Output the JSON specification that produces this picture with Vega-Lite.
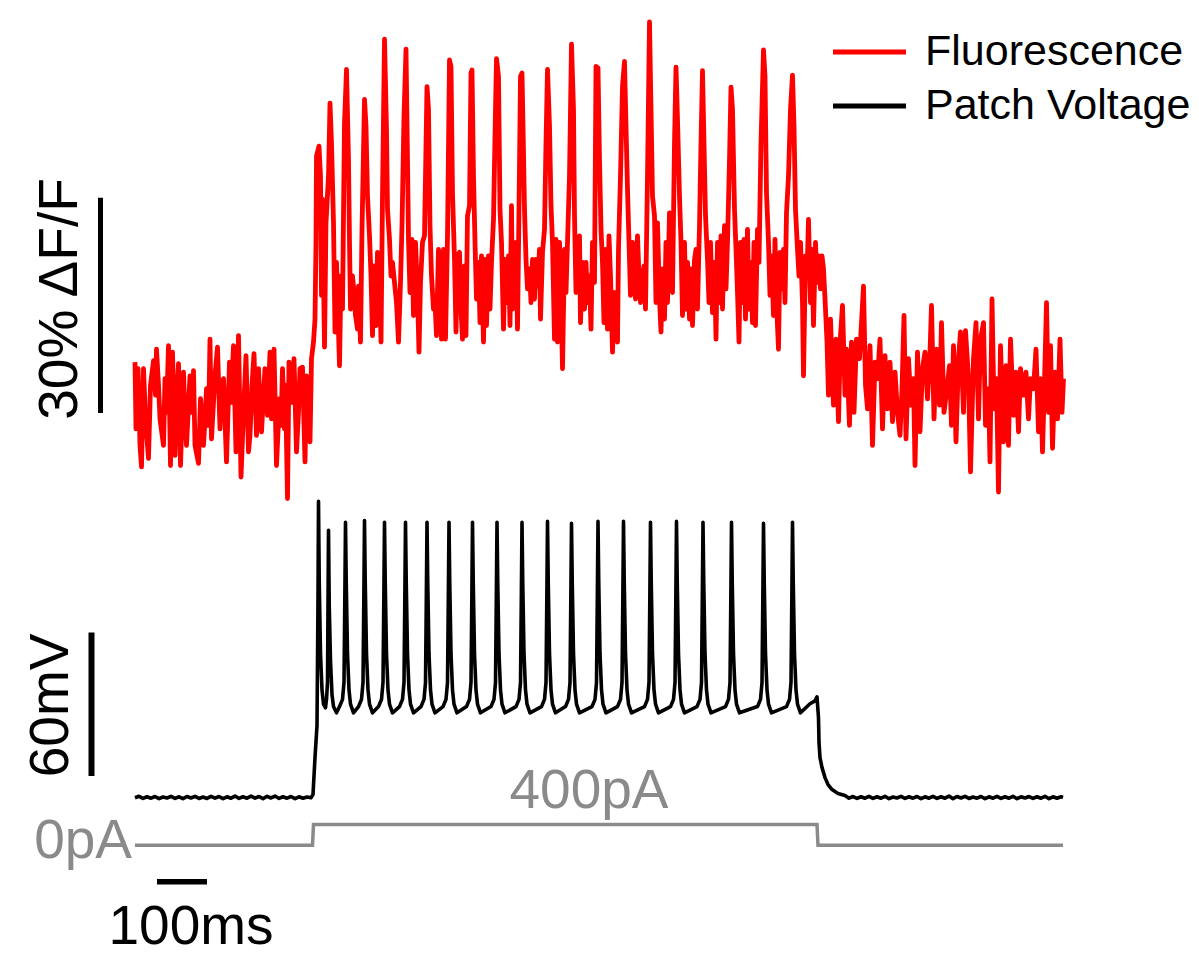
{
  "$schema": "https://vega.github.io/schema/vega-lite/v6.json",
  "width": 1199,
  "height": 956,
  "autosize": {"type": "fit", "contains": "padding"},
  "padding": 0,
  "background": "white",
  "config": {"view": {"stroke": null}},
  "datasets": {
    "fluorescence": [
      {"t":0,"f":5.1},{"t":2,"f":-4.2},{"t":6,"f":4.2},{"t":10,"f":-6.5},{"t":13,"f":-9.5},{"t":17,"f":4.2},{"t":21,"f":-2.8},{"t":27,"f":-8.3},{"t":31,"f":1.9},{"t":37,"f":5.3},{"t":41,"f":0.5},{"t":43,"f":6.9},{"t":47,"f":1.9},{"t":50,"f":-2.8},{"t":57,"f":-6.5},{"t":60,"f":2.8},{"t":63,"f":-1.9},{"t":67,"f":7.4},{"t":71,"f":-9.3},{"t":75,"f":6.5},{"t":80,"f":-7.9},{"t":83,"f":-0.5},{"t":87,"f":4.9},{"t":91,"f":-9.3},{"t":97,"f":3.7},{"t":100,"f":-2.8},{"t":103,"f":-6.5},{"t":110,"f":3.2},{"t":114,"f":-1.9},{"t":117,"f":3.9},{"t":120,"f":-6.5},{"t":127,"f":-9.0},{"t":131,"f":0},{"t":137,"f":-6.5},{"t":140,"f":-2.8},{"t":143,"f":1.4},{"t":147,"f":-3.7},{"t":150,"f":8.3},{"t":153,"f":-5.6},{"t":157,"f":-0.5},{"t":160,"f":3.2},{"t":165,"f":7.2},{"t":170,"f":-4.2},{"t":173,"f":1.9},{"t":177,"f":2.8},{"t":183,"f":-8.8},{"t":189,"f":5.1},{"t":192,"f":-0.5},{"t":197,"f":7.4},{"t":202,"f":-7.4},{"t":207,"f":8.8},{"t":212,"f":-10.9},{"t":217,"f":-1.9},{"t":222,"f":6.0},{"t":227,"f":-7.4},{"t":230,"f":-5.1},{"t":234,"f":1.9},{"t":238,"f":6.3},{"t":243,"f":-5.1},{"t":247,"f":4.2},{"t":253,"f":-4.6},{"t":257,"f":0.5},{"t":260,"f":4.2},{"t":265,"f":-2.3},{"t":270,"f":6.5},{"t":273,"f":-2.8},{"t":278,"f":6.9},{"t":283,"f":-9.3},{"t":289,"f":0},{"t":292,"f":-3.7},{"t":295,"f":4.2},{"t":299,"f":-4.2},{"t":301,"f":1.9},{"t":305,"f":-13.9},{"t":308,"f":5.1},{"t":313,"f":-0.5},{"t":318,"f":5.6},{"t":323,"f":-7.4},{"t":327,"f":-1.9},{"t":330,"f":4.2},{"t":335,"f":4.4},{"t":340,"f":-8.8},{"t":343,"f":3.2},{"t":350,"f":-6.0},{"t":353,"f":5.6},
      {"t":357,"f":7.9},{"t":360,"f":11.1},{"t":362,"f":21.8},{"t":363,"f":33.8},{"t":368,"f":35.2},{"t":371,"f":31.0},{"t":373,"f":14.4},{"t":375,"f":27.8},{"t":379,"f":7.2},{"t":382,"f":24.5},{"t":387,"f":31.0},{"t":390,"f":41.2},{"t":393,"f":35.6},{"t":397,"f":24.5},{"t":400,"f":9.3},{"t":403,"f":19.0},{"t":409,"f":4.6},{"t":412,"f":17.1},{"t":415,"f":12.5},{"t":419,"f":38.4},{"t":423,"f":45.9},{"t":427,"f":33.3},{"t":429,"f":21.8},{"t":431,"f":12.5},{"t":435,"f":17.1},{"t":438,"f":14.8},{"t":441,"f":11.6},{"t":445,"f":9.7},{"t":447,"f":15.7},{"t":451,"f":7.9},{"t":454,"f":23.6},{"t":459,"f":41.7},{"t":462,"f":38.0},{"t":465,"f":28.2},{"t":469,"f":22.7},{"t":472,"f":17.1},{"t":475,"f":8.8},{"t":478,"f":18.5},{"t":482,"f":10.2},{"t":485,"f":20.4},{"t":489,"f":18.1},{"t":492,"f":7.9},{"t":495,"f":28.2},{"t":499,"f":50.1},{"t":503,"f":37.5},{"t":505,"f":26.4},{"t":509,"f":22.2},{"t":512,"f":17.1},{"t":515,"f":19.0},{"t":519,"f":16.2},{"t":523,"f":13.4},{"t":527,"f":7.9},{"t":531,"f":16.2},{"t":534,"f":24.1},{"t":538,"f":39.4},{"t":542,"f":48.7},{"t":545,"f":33.3},{"t":547,"f":22.2},{"t":550,"f":14.8},{"t":554,"f":22.2},{"t":557,"f":11.6},{"t":561,"f":21.8},{"t":565,"f":14.8},{"t":568,"f":6.5},{"t":571,"f":16.2},{"t":575,"f":21.8},{"t":579,"f":22.7},{"t":581,"f":31.0},{"t":584,"f":43.5},{"t":587,"f":40.3},{"t":590,"f":24.1},{"t":593,"f":17.1},{"t":597,"f":12.5},{"t":600,"f":13.4},{"t":603,"f":8.8},{"t":607,"f":20.8},{"t":610,"f":19.0},{"t":613,"f":8.3},{"t":617,"f":20.8},{"t":621,"f":8.3},{"t":625,"f":22.7},{"t":629,"f":47.2},{"t":632,"f":46.3},{"t":635,"f":28.7},{"t":639,"f":19.4},{"t":642,"f":9.3},{"t":645,"f":19.9},{"t":649,"f":20.4},{"t":652,"f":12.5},{"t":655,"f":8.3},{"t":659,"f":18.5},{"t":662,"f":8.8},{"t":665,"f":25.5},{"t":669,"f":26.9},{"t":672,"f":45.4},{"t":674,"f":45.8},{"t":677,"f":31.0},{"t":680,"f":21.8},{"t":683,"f":13.9},{"t":687,"f":19.0},{"t":690,"f":10.6},{"t":693,"f":19.9},{"t":697,"f":7.9},{"t":700,"f":19.4},{"t":703,"f":10.2},{"t":707,"f":19.9},{"t":710,"f":12.5},{"t":713,"f":19.0},{"t":717,"f":25.0},{"t":721,"f":40.3},{"t":723,"f":47.4},{"t":727,"f":44.9},{"t":730,"f":26.4},{"t":733,"f":21.8},{"t":737,"f":9.7},{"t":740,"f":19.4},{"t":743,"f":13.4},{"t":747,"f":19.9},{"t":750,"f":10.2},{"t":753,"f":26.9},{"t":755,"f":12.5},{"t":759,"f":17.1},{"t":762,"f":21.8},{"t":765,"f":9.7},{"t":768,"f":26.4},{"t":771,"f":44.9},{"t":774,"f":45.4},{"t":777,"f":34.3},{"t":779,"f":26.4},{"t":782,"f":19.4},{"t":785,"f":15.3},{"t":789,"f":18.1},{"t":792,"f":13.4},{"t":795,"f":19.4},{"t":799,"f":13.9},{"t":802,"f":19.4},{"t":805,"f":15.7},{"t":809,"f":20.8},{"t":811,"f":11.1},{"t":815,"f":20.4},{"t":819,"f":23.6},{"t":822,"f":35.6},{"t":825,"f":45.9},
      {"t":829,"f":38.0},{"t":832,"f":26.9},{"t":835,"f":21.8},{"t":839,"f":8.3},{"t":842,"f":22.2},{"t":845,"f":7.9},{"t":849,"f":21.8},{"t":852,"f":14.4},{"t":855,"f":4.2},{"t":859,"f":20.8},{"t":862,"f":14.8},{"t":865,"f":21.8},{"t":869,"f":31.0},{"t":873,"f":49.4},{"t":877,"f":40.3},{"t":879,"f":25.5},{"t":882,"f":14.8},{"t":885,"f":20.8},{"t":889,"f":22.7},{"t":891,"f":10.6},{"t":895,"f":19.0},{"t":899,"f":12.5},{"t":902,"f":19.0},{"t":905,"f":13.4},{"t":909,"f":17.1},{"t":912,"f":9.7},{"t":915,"f":21.8},{"t":919,"f":16.2},{"t":922,"f":46.3},{"t":926,"f":46.1},{"t":929,"f":33.3},{"t":932,"f":23.6},{"t":935,"f":19.0},{"t":938,"f":10.6},{"t":941,"f":20.8},{"t":945,"f":9.7},{"t":948,"f":22.7},{"t":951,"f":17.1},{"t":955,"f":6.5},{"t":958,"f":14.8},{"t":961,"f":12.5},{"t":965,"f":7.9},{"t":967,"f":20.8},{"t":971,"f":31.0},{"t":975,"f":43.5},{"t":979,"f":47.0},{"t":982,"f":38.0},{"t":985,"f":29.2},{"t":988,"f":21.8},{"t":991,"f":14.4},{"t":995,"f":21.8},{"t":998,"f":18.1},{"t":1001,"f":13.9},{"t":1005,"f":22.7},{"t":1008,"f":17.1},{"t":1011,"f":13.4},{"t":1015,"f":17.1},{"t":1018,"f":18.5},{"t":1021,"f":12.5},{"t":1025,"f":31.0},{"t":1029,"f":52.5},{"t":1032,"f":40.3},{"t":1035,"f":28.2},{"t":1039,"f":25.5},{"t":1042,"f":13.4},{"t":1045,"f":24.5},{"t":1049,"f":13.9},{"t":1052,"f":9.3},{"t":1055,"f":18.1},{"t":1059,"f":11.1},{"t":1062,"f":21.8},{"t":1065,"f":13.4},{"t":1069,"f":25.9},{"t":1072,"f":25.5},{"t":1075,"f":14.8},{"t":1079,"f":35.6},{"t":1082,"f":46.2},{"t":1085,"f":38.9},{"t":1089,"f":28.2},{"t":1092,"f":21.8},{"t":1095,"f":11.6},{"t":1099,"f":21.8},{"t":1102,"f":12.5},{"t":1105,"f":19.0},{"t":1109,"f":11.1},{"t":1112,"f":18.1},{"t":1115,"f":10.2},{"t":1119,"f":19.4},{"t":1122,"f":20.8},{"t":1125,"f":12.5},{"t":1129,"f":24.1},{"t":1132,"f":35.6},{"t":1135,"f":45.7},{"t":1138,"f":35.6},{"t":1141,"f":25.5},{"t":1145,"f":19.4},{"t":1148,"f":13.4},{"t":1151,"f":21.8},{"t":1155,"f":12.0},{"t":1159,"f":19.0},{"t":1162,"f":8.3},{"t":1165,"f":21.8},{"t":1169,"f":13.4},{"t":1172,"f":22.7},{"t":1175,"f":12.5},{"t":1179,"f":24.1},{"t":1182,"f":15.3},{"t":1185,"f":21.8},{"t":1189,"f":33.3},{"t":1192,"f":43.4},{"t":1195,"f":40.3},{"t":1199,"f":26.4},{"t":1202,"f":20.8},{"t":1205,"f":14.8},{"t":1208,"f":7.9},{"t":1211,"f":21.8},{"t":1215,"f":13.4},{"t":1218,"f":22.2},{"t":1221,"f":11.1},{"t":1225,"f":23.6},{"t":1228,"f":12.5},{"t":1231,"f":19.0},{"t":1235,"f":10.6},{"t":1238,"f":21.8},{"t":1241,"f":10.2},{"t":1245,"f":23.6},{"t":1248,"f":19.0},{"t":1252,"f":35.6},{"t":1257,"f":48.6},{"t":1260,"f":44.9},{"t":1263,"f":28.7},{"t":1267,"f":21.8},{"t":1270,"f":14.4},{"t":1273,"f":19.9},{"t":1277,"f":11.6},{"t":1280,"f":22.2},{"t":1283,"f":13.4},{"t":1287,"f":6.9},{"t":1290,"f":20.4},{"t":1293,"f":15.3},{"t":1297,"f":20.8},{"t":1300,"f":13.4},{"t":1303,"f":25.9},{"t":1307,"f":31.0},{"t":1311,"f":40.3},{"t":1315,"f":45.1},{"t":1318,"f":38.0},{"t":1321,"f":26.4},{"t":1325,"f":20.8},{"t":1328,"f":17.1},{"t":1331,"f":21.8},{"t":1335,"f":13.4},{"t":1337,"f":3.2},{"t":1341,"f":19.9},{"t":1344,"f":17.1},{"t":1347,"f":25.0},{"t":1351,"f":13.4},{"t":1354,"f":20.8},{"t":1357,"f":10.2},{"t":1361,"f":21.8},{"t":1364,"f":16.2},{"t":1367,"f":19.9},{"t":1371,"f":15.3},{"t":1374,"f":19.9},{"t":1377,"f":18.1},{"t":1381,"f":12.5},{"t":1384,"f":7.9},
      {"t":1387,"f":0.5},{"t":1391,"f":11.1},{"t":1397,"f":-0.9},{"t":1402,"f":8.3},{"t":1407,"f":-3.2},{"t":1411,"f":8.8},{"t":1415,"f":13.0},{"t":1420,"f":0.5},{"t":1423,"f":6.9},{"t":1429,"f":-3.7},{"t":1433,"f":7.9},{"t":1438,"f":-1.9},{"t":1443,"f":8.3},{"t":1449,"f":5.6},{"t":1453,"f":10.6},{"t":1457,"f":15.7},{"t":1461,"f":1.9},{"t":1465,"f":-1.4},{"t":1470,"f":7.4},{"t":1475,"f":-6.5},{"t":1480,"f":5.1},{"t":1485,"f":2.8},{"t":1490,"f":8.3},{"t":1495,"f":-4.2},{"t":1500,"f":6.0},{"t":1505,"f":-1.4},{"t":1510,"f":5.1},{"t":1515,"f":-3.2},{"t":1520,"f":3.7},{"t":1525,"f":-1.9},{"t":1530,"f":-5.1},{"t":1534,"f":1.4},{"t":1538,"f":11.6},{"t":1542,"f":-5.6},{"t":1547,"f":5.6},{"t":1552,"f":-0.9},{"t":1557,"f":2.8},{"t":1560,"f":-9.3},{"t":1565,"f":6.5},{"t":1570,"f":-4.6},{"t":1575,"f":4.2},{"t":1580,"f":6.5},{"t":1585,"f":0},{"t":1590,"f":6.5},{"t":1593,"f":13.0},{"t":1598,"f":-2.8},{"t":1603,"f":6.9},{"t":1609,"f":-0.9},{"t":1613,"f":10.6},{"t":1618,"f":-1.9},{"t":1623,"f":0.9},{"t":1629,"f":4.6},{"t":1633,"f":-3.7},{"t":1637,"f":7.4},{"t":1642,"f":-6.0},{"t":1647,"f":5.6},{"t":1651,"f":9.3},{"t":1657,"f":-1.9},{"t":1661,"f":9.5},{"t":1667,"f":2.8},{"t":1671,"f":-10.2},{"t":1677,"f":5.6},{"t":1682,"f":10.6},{"t":1687,"f":-2.8},{"t":1691,"f":8.3},{"t":1697,"f":10.6},{"t":1701,"f":-3.7},{"t":1707,"f":1.4},{"t":1710,"f":-8.8},{"t":1714,"f":13.9},{"t":1718,"f":-1.4},{"t":1723,"f":2.8},{"t":1727,"f":-13.0},{"t":1731,"f":7.4},{"t":1737,"f":-6.0},{"t":1742,"f":4.6},{"t":1747,"f":-6.5},{"t":1751,"f":8.3},{"t":1757,"f":-2.3},{"t":1762,"f":3.7},{"t":1767,"f":-4.6},{"t":1771,"f":4.2},{"t":1777,"f":0.5},{"t":1782,"f":3.7},{"t":1787,"f":-2.8},{"t":1791,"f":2.8},{"t":1797,"f":1.4},{"t":1802,"f":6.9},{"t":1807,"f":-4.6},{"t":1811,"f":2.8},{"t":1815,"f":-7.4},{"t":1820,"f":5.1},{"t":1823,"f":13.4},{"t":1827,"f":-1.9},{"t":1831,"f":7.4},{"t":1835,"f":-6.9},{"t":1840,"f":3.7},{"t":1845,"f":-2.8},{"t":1850,"f":8.3},{"t":1854,"f":-1.9},{"t":1857,"f":2.8}
    ],
    "voltage": [
      {"t":0,"v":-65.1},{"t":8,"v":-64.5},{"t":16,"v":-65.4},{"t":24,"v":-64.7},{"t":32,"v":-65.3},{"t":40,"v":-64.6},{"t":48,"v":-65.5},{"t":56,"v":-64.8},{"t":64,"v":-65.2},{"t":72,"v":-64.5},{"t":80,"v":-65.4},{"t":88,"v":-64.7},{"t":96,"v":-65.5},{"t":104,"v":-64.6},{"t":112,"v":-65.2},{"t":120,"v":-64.5},{"t":128,"v":-65.4},{"t":136,"v":-64.8},{"t":144,"v":-65.4},{"t":152,"v":-64.5},{"t":160,"v":-65.3},{"t":168,"v":-64.6},{"t":176,"v":-65.5},{"t":184,"v":-64.7},{"t":192,"v":-65.3},{"t":200,"v":-64.4},{"t":208,"v":-65.4},{"t":216,"v":-64.7},{"t":224,"v":-65.3},{"t":232,"v":-64.4},{"t":240,"v":-65.3},{"t":248,"v":-64.6},{"t":256,"v":-65.5},{"t":264,"v":-64.5},{"t":272,"v":-65.2},{"t":280,"v":-64.4},{"t":288,"v":-65.4},{"t":296,"v":-64.7},{"t":304,"v":-65.3},{"t":312,"v":-64.6},{"t":320,"v":-65.5},{"t":328,"v":-64.7},{"t":336,"v":-65.3},{"t":344,"v":-64.8},{"t":352,"v":-65.1},
      {"t":356,"v":-63.8},{"t":360,"v":-48.3},{"t":364,"v":-35.0},{"t":366,"v":18.3},{"t":367,"v":58.8},{"t":368.5,"v":25},{"t":371,"v":-5},{"t":374,"v":-20},{"t":377,"v":-26},{"t":381,"v":-27.5},{"t":383,"v":-24},{"t":385,"v":-17},{"t":386,"v":15},{"t":387,"v":46.7},{"t":388.5,"v":15},{"t":391,"v":-8},{"t":394,"v":-22},{"t":397,"v":-27},
      {"t":403,"v":-29.6},{"t":409,"v":-27.0},{"t":415,"v":-24.0},{"t":418,"v":-17},{"t":419.5,"v":15},{"t":421,"v":50.0},{"t":422.5,"v":25},{"t":425,"v":-5},{"t":428,"v":-20},{"t":431,"v":-26},
      {"t":437,"v":-29.6},{"t":447,"v":-27.0},{"t":453,"v":-24.0},{"t":456,"v":-17},{"t":457.5,"v":15},{"t":459,"v":50.8},{"t":460.5,"v":25},{"t":463,"v":-5},{"t":466,"v":-20},{"t":469,"v":-26},
      {"t":475,"v":-29.6},{"t":487,"v":-27.0},{"t":493,"v":-24.0},{"t":496,"v":-17},{"t":497.5,"v":15},{"t":499,"v":50.0},{"t":500.5,"v":25},{"t":503,"v":-5},{"t":506,"v":-20},{"t":509,"v":-26},
      {"t":515,"v":-29.6},{"t":529,"v":-27.0},{"t":535,"v":-24.0},{"t":538,"v":-17},{"t":539.5,"v":15},{"t":541,"v":50.0},{"t":542.5,"v":25},{"t":545,"v":-5},{"t":548,"v":-20},{"t":551,"v":-26},
      {"t":557,"v":-29.6},{"t":572,"v":-27.0},{"t":578,"v":-24.0},{"t":581,"v":-17},{"t":582.5,"v":15},{"t":584,"v":50.0},{"t":585.5,"v":25},{"t":588,"v":-5},{"t":591,"v":-20},{"t":594,"v":-26},
      {"t":600,"v":-29.6},{"t":616,"v":-27.0},{"t":622,"v":-24.0},{"t":625,"v":-17},{"t":626.5,"v":15},{"t":628,"v":50.0},{"t":629.5,"v":25},{"t":632,"v":-5},{"t":635,"v":-20},{"t":638,"v":-26},
      {"t":644,"v":-29.6},{"t":663,"v":-27.0},{"t":669,"v":-24.0},{"t":672,"v":-17},{"t":673.5,"v":15},{"t":675,"v":50.0},{"t":676.5,"v":25},{"t":679,"v":-5},{"t":682,"v":-20},{"t":685,"v":-26},
      {"t":691,"v":-29.6},{"t":712,"v":-27.0},{"t":718,"v":-24.0},{"t":721,"v":-17},{"t":722.5,"v":15},{"t":724,"v":50.0},{"t":725.5,"v":25},{"t":728,"v":-5},{"t":731,"v":-20},{"t":734,"v":-26},
      {"t":740,"v":-29.6},{"t":762,"v":-27.0},{"t":768,"v":-24.0},{"t":771,"v":-17},{"t":772.5,"v":15},{"t":774,"v":50.0},{"t":775.5,"v":25},{"t":778,"v":-5},{"t":781,"v":-20},{"t":784,"v":-26},
      {"t":790,"v":-29.6},{"t":813,"v":-27.0},{"t":819,"v":-24.0},{"t":822,"v":-17},{"t":823.5,"v":15},{"t":825,"v":50.4},{"t":826.5,"v":25},{"t":829,"v":-5},{"t":832,"v":-20},{"t":835,"v":-26},
      {"t":841,"v":-29.6},{"t":861,"v":-27.0},{"t":867,"v":-24.0},{"t":870,"v":-17},{"t":871.5,"v":15},{"t":873,"v":49.6},{"t":874.5,"v":25},{"t":877,"v":-5},{"t":880,"v":-20},{"t":883,"v":-26},
      {"t":889,"v":-29.6},{"t":914,"v":-27.0},{"t":920,"v":-24.0},{"t":923,"v":-17},{"t":924.5,"v":15},{"t":926,"v":50.4},{"t":927.5,"v":25},{"t":930,"v":-5},{"t":933,"v":-20},{"t":936,"v":-26},
      {"t":942,"v":-29.6},{"t":965,"v":-27.0},{"t":971,"v":-24.0},{"t":974,"v":-17},{"t":975.5,"v":15},{"t":977,"v":50.4},{"t":978.5,"v":25},{"t":981,"v":-5},{"t":984,"v":-20},{"t":987,"v":-26},
      {"t":993,"v":-29.6},{"t":1019,"v":-27.0},{"t":1025,"v":-24.0},{"t":1028,"v":-17},{"t":1029.5,"v":15},{"t":1031,"v":50.0},{"t":1032.5,"v":25},{"t":1035,"v":-5},{"t":1038,"v":-20},{"t":1041,"v":-26},
      {"t":1047,"v":-29.6},{"t":1071,"v":-27.0},{"t":1077,"v":-24.0},{"t":1080,"v":-17},{"t":1081.5,"v":15},{"t":1083,"v":50.4},{"t":1084.5,"v":25},{"t":1087,"v":-5},{"t":1090,"v":-20},{"t":1093,"v":-26},
      {"t":1099,"v":-29.6},{"t":1124,"v":-27.0},{"t":1130,"v":-24.0},{"t":1133,"v":-17},{"t":1134.5,"v":15},{"t":1136,"v":50.0},{"t":1137.5,"v":25},{"t":1140,"v":-5},{"t":1143,"v":-20},{"t":1146,"v":-26},
      {"t":1152,"v":-29.6},{"t":1181,"v":-27.0},{"t":1187,"v":-24.0},{"t":1190,"v":-17},{"t":1191.5,"v":15},{"t":1193,"v":50.0},{"t":1194.5,"v":25},{"t":1197,"v":-5},{"t":1200,"v":-20},{"t":1203,"v":-26},
      {"t":1209,"v":-29.6},{"t":1245,"v":-27.0},{"t":1251,"v":-24.0},{"t":1254,"v":-17},{"t":1255.5,"v":15},{"t":1257,"v":49.6},{"t":1258.5,"v":25},{"t":1261,"v":-5},{"t":1264,"v":-20},{"t":1267,"v":-26},
      {"t":1273,"v":-29.6},{"t":1303,"v":-27.0},{"t":1309,"v":-24.0},{"t":1312,"v":-17},{"t":1313.5,"v":15},{"t":1315,"v":50.0},{"t":1316.5,"v":25},{"t":1319,"v":-5},{"t":1322,"v":-20},{"t":1325,"v":-26},
      {"t":1331,"v":-29.6},{"t":1350,"v":-25.8},{"t":1360,"v":-24.6},{"t":1364,"v":-22.9},{"t":1367,"v":-31.7},{"t":1368,"v":-42.1},{"t":1370,"v":-48.3},{"t":1374,"v":-52.5},{"t":1380,"v":-56.7},{"t":1386,"v":-59.6},{"t":1394,"v":-61.7},{"t":1406,"v":-63.3},{"t":1420,"v":-64.2},
      {"t":1428,"v":-65.3},{"t":1436,"v":-64.6},{"t":1444,"v":-65.4},{"t":1452,"v":-64.7},{"t":1460,"v":-65.3},{"t":1468,"v":-64.5},{"t":1476,"v":-65.4},{"t":1484,"v":-64.7},{"t":1492,"v":-65.3},{"t":1500,"v":-64.5},{"t":1508,"v":-65.5},{"t":1516,"v":-64.8},{"t":1524,"v":-65.2},{"t":1532,"v":-64.5},{"t":1540,"v":-65.4},{"t":1548,"v":-64.7},{"t":1556,"v":-65.3},{"t":1564,"v":-64.6},{"t":1572,"v":-65.5},{"t":1580,"v":-64.7},{"t":1588,"v":-65.3},{"t":1596,"v":-64.5},{"t":1604,"v":-65.4},{"t":1612,"v":-64.7},{"t":1620,"v":-65.3},{"t":1628,"v":-64.4},{"t":1636,"v":-65.5},{"t":1644,"v":-64.6},{"t":1652,"v":-65.2},{"t":1660,"v":-64.5},{"t":1668,"v":-65.4},{"t":1676,"v":-64.8},{"t":1684,"v":-65.3},{"t":1692,"v":-64.6},{"t":1700,"v":-65.5},{"t":1708,"v":-64.7},{"t":1716,"v":-65.3},{"t":1724,"v":-64.5},{"t":1732,"v":-65.4},{"t":1740,"v":-64.7},{"t":1748,"v":-65.3},{"t":1756,"v":-64.5},{"t":1764,"v":-65.5},{"t":1772,"v":-64.7},{"t":1780,"v":-65.2},{"t":1788,"v":-64.6},{"t":1796,"v":-65.4},{"t":1804,"v":-64.7},{"t":1812,"v":-65.3},{"t":1820,"v":-64.5},{"t":1828,"v":-65.5},{"t":1836,"v":-64.7},{"t":1844,"v":-65.3},{"t":1852,"v":-64.7},{"t":1856,"v":-65.0}
    ],
    "current": [
      {"t":0,"i":0},{"t":355,"i":0},{"t":357,"i":400},{"t":1364,"i":400},{"t":1366,"i":0},{"t":1856,"i":0}
    ],
    "key": [
      {"series": "Fluorescence", "t0": 1396, "t1": 1542, "tl": 1580, "f": 48.3},
      {"series": "Patch Voltage", "t0": 1396, "t1": 1542, "tl": 1580, "f": 40.8}
    ]
  },
  "layer": [
    {
      "data": {"name": "current"},
      "mark": {"type": "line", "color": "#8a8a8a", "strokeWidth": 3.5, "strokeJoin": "miter"},
      "encoding": {
        "x": {"field": "t", "type": "quantitative", "scale": {"domain": [-270, 2128], "nice": false, "zero": false}, "axis": null},
        "y": {"field": "i", "type": "quantitative", "scale": {"domain": [-2057.14, 16152.38], "nice": false, "zero": false}, "axis": null}
      }
    },
    {
      "data": {"values": [{"t": -6, "i": -248, "label": "0pA"}]},
      "mark": {"type": "text", "font": "Liberation Sans", "fontSize": 55, "color": "#8a8a8a", "baseline": "alphabetic", "align": "right"},
      "encoding": {
        "x": {"field": "t", "type": "quantitative", "scale": {"domain": [-270, 2128], "nice": false, "zero": false}, "axis": null},
        "y": {"field": "i", "type": "quantitative", "scale": {"domain": [-2057.14, 16152.38], "nice": false, "zero": false}, "axis": null},
        "text": {"field": "label"}
      }
    },
    {
      "data": {"values": [{"t": 908, "i": 720, "label": "400pA"}]},
      "mark": {"type": "text", "font": "Liberation Sans", "fontSize": 55, "color": "#8a8a8a", "baseline": "alphabetic", "align": "center"},
      "encoding": {
        "x": {"field": "t", "type": "quantitative", "scale": {"domain": [-270, 2128], "nice": false, "zero": false}, "axis": null},
        "y": {"field": "i", "type": "quantitative", "scale": {"domain": [-2057.14, 16152.38], "nice": false, "zero": false}, "axis": null},
        "text": {"field": "label"}
      }
    },
    {
      "data": {"values": [{"t0": 44, "t1": 144, "i": -695}]},
      "mark": {"type": "rule", "color": "#000000", "strokeWidth": 5.5},
      "encoding": {
        "x": {"field": "t0", "type": "quantitative", "scale": {"domain": [-270, 2128], "nice": false, "zero": false}, "axis": null},
        "x2": {"field": "t1"},
        "y": {"field": "i", "type": "quantitative", "scale": {"domain": [-2057.14, 16152.38], "nice": false, "zero": false}, "axis": null}
      }
    },
    {
      "data": {"values": [{"t": 112, "i": -1886, "label": "100ms"}]},
      "mark": {"type": "text", "font": "Liberation Sans", "fontSize": 55, "color": "#000000", "baseline": "alphabetic", "align": "center"},
      "encoding": {
        "x": {"field": "t", "type": "quantitative", "scale": {"domain": [-270, 2128], "nice": false, "zero": false}, "axis": null},
        "y": {"field": "i", "type": "quantitative", "scale": {"domain": [-2057.14, 16152.38], "nice": false, "zero": false}, "axis": null},
        "text": {"field": "label"}
      }
    },
    {
      "data": {"name": "voltage"},
      "mark": {"type": "line", "strokeWidth": 3.6, "strokeJoin": "round"},
      "encoding": {
        "x": {"field": "t", "type": "quantitative", "scale": {"domain": [-270, 2128], "nice": false, "zero": false}, "axis": null},
        "y": {"field": "v", "type": "quantitative", "scale": {"domain": [-130, 268.333], "nice": false, "zero": false}, "axis": null},
        "color": {"datum": "Patch Voltage", "type": "nominal", "scale": {"domain": ["Fluorescence", "Patch Voltage"], "range": ["#ff0000", "#000000"]}, "legend": null}
      }
    },
    {
      "data": {"values": [{"t": -87, "v0": -56, "v1": 4}]},
      "mark": {"type": "rule", "color": "#000000", "strokeWidth": 6},
      "encoding": {
        "x": {"field": "t", "type": "quantitative", "scale": {"domain": [-270, 2128], "nice": false, "zero": false}, "axis": null},
        "y": {"field": "v0", "type": "quantitative", "scale": {"domain": [-130, 268.333], "nice": false, "zero": false}, "axis": null},
        "y2": {"field": "v1"}
      }
    },
    {
      "data": {"values": [{"t": -169, "v": -26.5, "label": "60mV"}]},
      "mark": {"type": "text", "font": "Liberation Sans", "fontSize": 55, "color": "#000000", "angle": 270, "align": "center", "baseline": "middle"},
      "encoding": {
        "x": {"field": "t", "type": "quantitative", "scale": {"domain": [-270, 2128], "nice": false, "zero": false}, "axis": null},
        "y": {"field": "v", "type": "quantitative", "scale": {"domain": [-130, 268.333], "nice": false, "zero": false}, "axis": null},
        "text": {"field": "label"}
      }
    },
    {
      "data": {"name": "fluorescence"},
      "mark": {"type": "line", "strokeWidth": 4.8, "strokeJoin": "round"},
      "encoding": {
        "x": {"field": "t", "type": "quantitative", "scale": {"domain": [-270, 2128], "nice": false, "zero": false}, "axis": null},
        "y": {"field": "f", "type": "quantitative", "scale": {"domain": [-77.222, 55.556], "nice": false, "zero": false}, "axis": null},
        "color": {"datum": "Fluorescence", "type": "nominal", "scale": {"domain": ["Fluorescence", "Patch Voltage"], "range": ["#ff0000", "#000000"]}, "legend": null}
      }
    },
    {
      "data": {"values": [{"t": -69, "f0": -2, "f1": 28}]},
      "mark": {"type": "rule", "color": "#000000", "strokeWidth": 5},
      "encoding": {
        "x": {"field": "t", "type": "quantitative", "scale": {"domain": [-270, 2128], "nice": false, "zero": false}, "axis": null},
        "y": {"field": "f0", "type": "quantitative", "scale": {"domain": [-77.222, 55.556], "nice": false, "zero": false}, "axis": null},
        "y2": {"field": "f1"}
      }
    },
    {
      "data": {"values": [{"t": -151, "f": 13.9, "label": "30% ΔF/F"}]},
      "mark": {"type": "text", "font": "Liberation Sans", "fontSize": 55, "color": "#000000", "angle": 270, "align": "center", "baseline": "middle"},
      "encoding": {
        "x": {"field": "t", "type": "quantitative", "scale": {"domain": [-270, 2128], "nice": false, "zero": false}, "axis": null},
        "y": {"field": "f", "type": "quantitative", "scale": {"domain": [-77.222, 55.556], "nice": false, "zero": false}, "axis": null},
        "text": {"field": "label"}
      }
    },
    {
      "data": {"name": "key"},
      "mark": {"type": "rule", "strokeWidth": 5},
      "encoding": {
        "x": {"field": "t0", "type": "quantitative", "scale": {"domain": [-270, 2128], "nice": false, "zero": false}, "axis": null},
        "x2": {"field": "t1"},
        "y": {"field": "f", "type": "quantitative", "scale": {"domain": [-77.222, 55.556], "nice": false, "zero": false}, "axis": null},
        "color": {"field": "series", "type": "nominal", "scale": {"domain": ["Fluorescence", "Patch Voltage"], "range": ["#ff0000", "#000000"]}, "legend": null}
      }
    },
    {
      "data": {"name": "key"},
      "mark": {"type": "text", "font": "Liberation Sans", "fontSize": 43, "color": "#000000", "align": "left", "baseline": "middle"},
      "encoding": {
        "x": {"field": "tl", "type": "quantitative", "scale": {"domain": [-270, 2128], "nice": false, "zero": false}, "axis": null},
        "y": {"field": "f", "type": "quantitative", "scale": {"domain": [-77.222, 55.556], "nice": false, "zero": false}, "axis": null},
        "text": {"field": "series"}
      }
    }
  ],
  "resolve": {"scale": {"y": "independent"}}
}
